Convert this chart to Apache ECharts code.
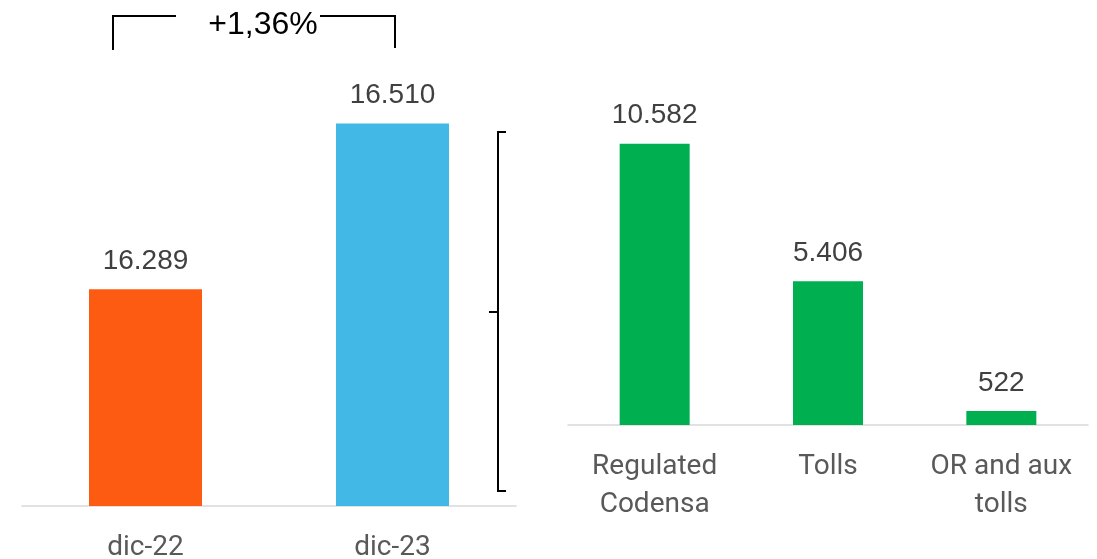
<!DOCTYPE html>
<html>
<head>
<meta charset="utf-8">
<script src="https://cdn.jsdelivr.net/npm/echarts@6/dist/echarts.min.js"></script>
<style>
  html, body { margin: 0; padding: 0; background: #fff; }
  #chart { width: 1097px; height: 559px; }
</style>
</head>
<body>
<div id="chart"></div>
<script>
// Total by period
const periods = ['dic-22', 'dic-23'];
const periodTotals = [16289, 16510];
const periodColors = ['#FE5B12', '#41B8E5'];

// Breakdown of the latest period
const parts = ['Regulated\nCodensa', 'Tolls', 'OR and aux\ntolls'];
const partValues = [10582, 5406, 522];

const changeLabel = '+1,36%';

const fmt = v => v.toLocaleString('de-DE');

const valueLabel = {
  show: true,
  position: 'top',
  distance: 14,
  color: '#404040',
  fontFamily: 'Liberation Sans, Arial, sans-serif',
  fontSize: 28,
  formatter: p => fmt(p.value)
};

const catAxisLabel = {
  interval: 0,
  hideOverlap: false,
  color: '#595959',
  fontFamily: 'Roboto, sans-serif',
  fontSize: 28,
  lineHeight: 38,
  margin: 23
};

const chart = echarts.init(document.getElementById('chart'), null, { renderer: 'canvas' });

chart.setOption({
  animation: false,
  backgroundColor: '#ffffff',
  grid: [
    { left: 22, width: 494, top: 56, bottom: 53, outerBoundsMode: 'none' },
    { left: 568, right: 9, top: 106, bottom: 134, outerBoundsMode: 'none' }
  ],
  xAxis: [
    {
      gridIndex: 0, type: 'category', data: periods,
      axisLine: { lineStyle: { color: '#D9D9D9', width: 1.5 } },
      axisTick: { show: false },
      axisLabel: catAxisLabel
    },
    {
      gridIndex: 1, type: 'category', data: parts,
      axisLine: { lineStyle: { color: '#D9D9D9', width: 1.5 } },
      axisTick: { show: false },
      axisLabel: catAxisLabel
    }
  ],
  yAxis: [
    { gridIndex: 0, type: 'value', min: 16000, max: 16600, show: false },
    { gridIndex: 1, type: 'value', min: 0, max: 12000, show: false }
  ],
  series: [
    {
      type: 'bar', xAxisIndex: 0, yAxisIndex: 0,
      barWidth: 113,
      data: periodTotals.map((v, i) => ({ value: v, itemStyle: { color: periodColors[i] } })),
      label: valueLabel
    },
    {
      type: 'bar', xAxisIndex: 1, yAxisIndex: 1,
      barWidth: 70,
      itemStyle: { color: '#00AF50' },
      data: partValues,
      label: valueLabel
    }
  ],
  graphic: [
    // change bracket over the two periods
    {
      type: 'polyline',
      shape: { points: [[113, 50], [113, 16], [176, 16]] },
      style: { stroke: '#000', lineWidth: 2, fill: null }
    },
    {
      type: 'polyline',
      shape: { points: [[320, 16], [395, 16], [395, 48]] },
      style: { stroke: '#000', lineWidth: 2, fill: null }
    },
    {
      type: 'text',
      x: 263, y: 25,
      style: {
        text: changeLabel,
        fill: '#000',
        font: '32px "Liberation Sans", Arial, sans-serif',
        textAlign: 'center',
        textVerticalAlign: 'middle'
      }
    },
    // brace linking the latest period to its breakdown
    {
      type: 'polyline',
      shape: { points: [[506, 132], [498, 132], [498, 491], [506, 491]] },
      style: { stroke: '#000', lineWidth: 2, fill: null }
    },
    {
      type: 'line',
      shape: { x1: 489, y1: 312, x2: 498, y2: 312 },
      style: { stroke: '#000', lineWidth: 2 }
    }
  ]
});
</script>
</body>
</html>
